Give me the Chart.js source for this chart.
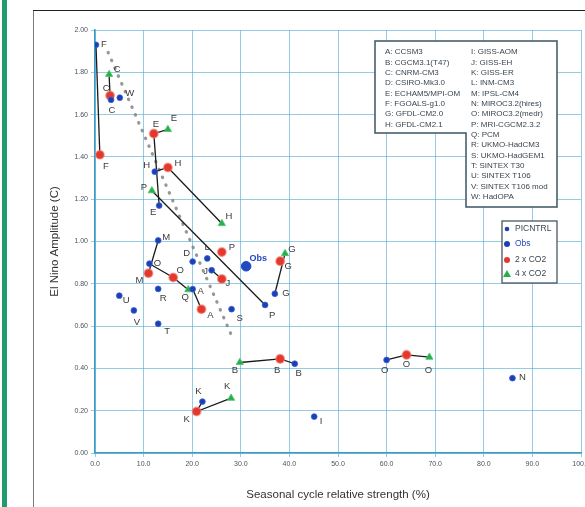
<!DOCTYPE html>
<html>
<head>
<meta charset="utf-8">
<script src="https://cdn.jsdelivr.net/npm/chart.js@4.4.1/dist/chart.umd.min.js"></script>
<style>
html, body { margin: 0; padding: 0; background: #fff; }
#wrap { position: relative; width: 585px; height: 507px; overflow: hidden; }
#bar { position: absolute; left: 2px; top: 0; width: 5px; height: 507px; background: #1f9c6c; }
#frameL { position: absolute; left: 33px; top: 11px; height: 496px; border-left: 1.5px solid #7a7a7a; }
#frameT { position: absolute; left: 33px; top: 10px; width: 552px; border-top: 1.5px solid #222; }
canvas { position: absolute; left: 0; top: 0; }
</style>
</head>
<body>
<div id="wrap">
  <div id="bar"></div><div id="frameL"></div><div id="frameT"></div>
  <canvas id="chart" width="585" height="507"></canvas>
</div>
<script>
// PICNTRL (blue)
const ctrlIds = ['A', 'B', 'C', 'D', 'E', 'F', 'G', 'H', 'I', 'J', 'K', 'L', 'M', 'N', 'O', 'O2', 'P', 'R', 'S', 'T', 'U', 'V', 'W'];
const ctrlX = [20.1, 41.1, 3.3, 20.1, 13.2, 0.2, 37.0, 12.3, 45.1, 24.0, 22.1, 23.1, 13.0, 85.9, 60.0, 11.2, 35.0, 13.0, 28.1, 13.0, 5.0, 8.0, 5.1];
const ctrlY = [0.775, 0.422, 1.67, 0.905, 1.17, 1.93, 0.753, 1.33, 0.172, 0.864, 0.243, 0.92, 1.005, 0.354, 0.44, 0.895, 0.70, 0.776, 0.68, 0.611, 0.744, 0.674, 1.68];

// 2 x CO2 (red)
const x2Ids = ['A', 'B', 'C', 'E', 'F', 'G', 'H', 'J', 'K', 'M', 'O2', 'O', 'P'];
const x2X = [21.9, 38.1, 3.1, 12.1, 1.0, 38.1, 15.0, 26.1, 20.9, 11.0, 16.1, 64.1, 26.1];
const x2Y = [0.68, 0.445, 1.69, 1.51, 1.41, 0.907, 1.35, 0.823, 0.196, 0.85, 0.83, 0.464, 0.95];

// 4 x CO2 (green)
const x4Ids = ['B', 'C', 'E', 'G', 'H', 'K', 'O', 'P', 'Q'];
const x4X = [29.8, 2.9, 15.0, 39.1, 26.1, 28.0, 68.8, 11.7, 19.2];
const x4Y = [0.428, 1.79, 1.53, 0.943, 1.085, 0.259, 0.453, 1.24, 0.772];

// observations
const obsX = [31.1];
const obsY = [0.883];

// dotted fit line
const trendX = [2.7, 28.2];
const trendY = [1.894, 0.55];

// which points are joined by black lines
const links = [
  ['c.F', 'r.F'], ['g.C', 'r.C'], ['g.E', 'r.E', 'c.E'], ['c.H', 'r.H', 'g.H'],
  ['g.P', 'c.P'], ['c.M', 'r.M'], ['c.O2', 'r.O2', 'g.Q'], ['c.A', 'r.A'],
  ['c.J', 'r.J'], ['c.G', 'g.G'], ['g.B', 'r.B', 'c.B'], ['c.K', 'r.K', 'g.K'],
  ['c.O', 'r.O', 'g.O']
];

const xTicks = [0, 10, 20, 30, 40, 50, 60, 70, 80, 90, 100];
const yTicks = [0, 0.2, 0.4, 0.6, 0.8, 1.0, 1.2, 1.4, 1.6, 1.8, 2.0];

const modelsLeft = ['A: CCSM3', 'B: CGCM3.1(T47)', 'C: CNRM-CM3', 'D: CSIRO-Mk3.0', 'E: ECHAM5/MPI-OM', 'F: FGOALS-g1.0', 'G: GFDL-CM2.0', 'H: GFDL-CM2.1'];
const modelsRight = ['I: GISS-AOM', 'J: GISS-EH', 'K: GISS-ER', 'L: INM-CM3', 'M: IPSL-CM4', 'N: MIROC3.2(hires)', 'O: MIROC3.2(medr)', 'P: MRI-CGCM2.3.2', 'Q: PCM', 'R: UKMO-HadCM3', 'S: UKMO-HadGEM1', 'T: SINTEX T30', 'U: SINTEX T106', 'V: SINTEX T106 mod', 'W: HadOPA'];
const legendNames = ['PICNTRL', 'Obs', '2 x CO2', '4 x CO2'];

// label placement (pixel offsets from each point)
const ctrlOff = [[8,2],[4,10],[1,11],[-6,-8],[-6,7],[8,0],[11,0],[-8,-6],[7,5],[-6,1],[-4,-10],[0,-11],[8,-3],[10,-1],[-2,10],[8,0],[7,10],[5,9],[8,9],[9,8],[7,5],[3,12],[10,-4]];
const x2Off = [[9,6],[-3,11],[-4,-7],[2,-9],[6,12],[8,5],[10,-4],[6,4],[-10,8],[-9,7],[7,-7],[0,10],[10,-5]];
const x4Off = [[-5,8],[8,-5],[6,-11],[7,-4],[7,-7],[-4,-12],[-1,13],[-8,-3],[-3,8]];
const obsOff = [[12,-8]];

const BLUE = '#1d3fb4', RED = '#e5382c', GREEN = '#25b04a';

function pts(xs, ys) { return xs.map((x, i) => ({ x: x, y: ys[i] })); }

const series = {
  c: { ids: ctrlIds, x: ctrlX, y: ctrlY },
  r: { ids: x2Ids, x: x2X, y: x2Y },
  g: { ids: x4Ids, x: x4X, y: x4Y }
};
function lookup(key) {
  const [s, id] = key.split('.');
  const i = series[s].ids.indexOf(id);
  return { x: series[s].x[i], y: series[s].y[i] };
}

const lineSets = links.map(l => ({
  type: 'scatter', data: l.map(lookup), showLine: true,
  borderColor: '#1a1a1a', borderWidth: 1.3, pointRadius: 0, order: 5
}));

const datasets = [
  { label: 'PICNTRL', data: pts(ctrlX, ctrlY), pointRadius: 2.9, backgroundColor: BLUE, borderColor: '#3563d8', borderWidth: 0.8, order: 1,
    tags: ctrlIds.map(s => s[0]), offs: ctrlOff },
  { label: 'Obs', data: pts(obsX, obsY), pointRadius: 4.8, backgroundColor: '#2149c2', borderColor: '#2149c2', order: 0,
    tags: ['Obs'], offs: obsOff, tagColor: '#2448c0' },
  { label: '2 x CO2', data: pts(x2X, x2Y), pointRadius: 4.3, backgroundColor: RED, borderColor: 'rgba(240,130,120,0.6)', borderWidth: 1.5, order: 2,
    tags: x2Ids.map(s => s[0]), offs: x2Off },
  { label: '4 x CO2', data: pts(x4X, x4Y), pointStyle: 'triangle', pointRadius: 4.2, backgroundColor: GREEN, borderColor: '#4cc46a', borderWidth: 0.8, order: 3,
    tags: x4Ids.map(s => s[0]), offs: x4Off },
  { label: 'fit', data: pts(trendX, trendY), showLine: true, pointRadius: 0, borderColor: 'rgba(125,125,125,0.8)',
    borderWidth: 3.2, borderDash: [0.5, 8], borderCapStyle: 'round', order: 6 }
].concat(lineSets);

const annotate = {
  id: 'annotate',
  afterDatasetsDraw(chart) {
    const ctx = chart.ctx;
    ctx.save();
    // point letters
    ctx.textAlign = 'center';
    ctx.textBaseline = 'middle';
    chart.data.datasets.forEach((ds, di) => {
      if (!ds.tags) return;
      const meta = chart.getDatasetMeta(di);
      ctx.font = ds.tagColor ? 'bold 9px "Liberation Sans", Arial' : '9.5px "Liberation Sans", Arial';
      ctx.fillStyle = ds.tagColor || '#3a3a3a';
      meta.data.forEach((el, i) => {
        const o = ds.offs[i];
        ctx.fillText(ds.tags[i], el.x + o[0], el.y + o[1]);
      });
    });

    // model key box (L shaped)
    ctx.fillStyle = '#fff';
    ctx.beginPath();
    ctx.moveTo(375, 41); ctx.lineTo(557, 41); ctx.lineTo(557, 207); ctx.lineTo(466, 207);
    ctx.lineTo(466, 133); ctx.lineTo(375, 133); ctx.closePath();
    ctx.fill();
    ctx.strokeStyle = '#3b5663';
    ctx.lineWidth = 1.5;
    ctx.stroke();
    ctx.font = '8px "Liberation Sans", Arial';
    ctx.fillStyle = '#3a4650';
    ctx.textAlign = 'left';
    modelsLeft.forEach((t, i) => ctx.fillText(t, 385, 52 + i * 10.35));
    modelsRight.forEach((t, i) => ctx.fillText(t, 471, 52 + i * 10.35));

    // symbol legend
    ctx.fillStyle = '#fff';
    ctx.fillRect(502, 221, 55, 62);
    ctx.strokeStyle = '#3b4a52';
    ctx.lineWidth = 1.2;
    ctx.strokeRect(502, 221, 55, 62);
    const rows = [229, 244, 260, 274];
    ctx.font = '8.5px "Liberation Sans", Arial';
    legendNames.forEach((t, i) => {
      const y = rows[i];
      ctx.beginPath();
      if (i === 3) {
        ctx.moveTo(507, y - 4); ctx.lineTo(511, y + 3); ctx.lineTo(503, y + 3); ctx.closePath();
        ctx.fillStyle = GREEN;
      } else {
        ctx.arc(507, y, i === 0 ? 2.3 : 3, 0, Math.PI * 2);
        ctx.fillStyle = i === 2 ? RED : BLUE;
      }
      ctx.fill();
      ctx.fillStyle = i === 1 ? '#2448c0' : '#3a4650';
      ctx.fillText(t, 515, y);
    });
    ctx.restore();
  }
};

new Chart(document.getElementById('chart'), {
  type: 'scatter',
  data: { datasets: datasets },
  options: {
    responsive: false,
    animation: false,
    layout: { autoPadding: false, padding: { left: 44, top: 30, right: 4, bottom: 1 } },
    plugins: { legend: { display: false }, tooltip: { enabled: false } },
    scales: {
      x: {
        type: 'linear', min: 0, max: 100,
        afterBuildTicks: s => { s.ticks = xTicks.map(v => ({ value: v })); },
        afterFit: s => { s.height = 53; s.paddingLeft = 0; s.paddingRight = 0; },
        ticks: { callback: v => v.toFixed(1), color: '#4a5560', font: { family: '"Liberation Sans Narrow", "Liberation Sans", Arial', size: 7 }, maxRotation: 0, padding: 3 },
        grid: { color: 'rgba(90,175,215,0.65)', lineWidth: 1, tickLength: 4 },
        border: { color: '#3a9cc6', width: 1.5 },
        title: { display: true, text: 'Seasonal cycle relative strength (%)', color: '#333', font: { family: '"Liberation Sans", Arial', size: 11.5 }, padding: { top: 4, bottom: 4 } }
      },
      y: {
        type: 'linear', min: 0, max: 2,
        afterBuildTicks: s => { s.ticks = yTicks.map(v => ({ value: v })); },
        afterFit: s => { s.width = 51; s.paddingTop = 0; s.paddingBottom = 0; },
        ticks: { callback: v => v.toFixed(2), color: '#4a5560', font: { family: '"Liberation Sans Narrow", "Liberation Sans", Arial', size: 7 }, padding: 3 },
        grid: { color: 'rgba(90,175,215,0.65)', lineWidth: 1, tickLength: 4 },
        border: { color: '#3a9cc6', width: 1.5 },
        title: { display: true, text: 'El Nino Amplitude (C)', color: '#333', font: { family: '"Liberation Sans", Arial', size: 11.5 }, padding: { top: 4, bottom: 4 } }
      }
    }
  },
  plugins: [annotate]
});
</script>
</body>
</html>
